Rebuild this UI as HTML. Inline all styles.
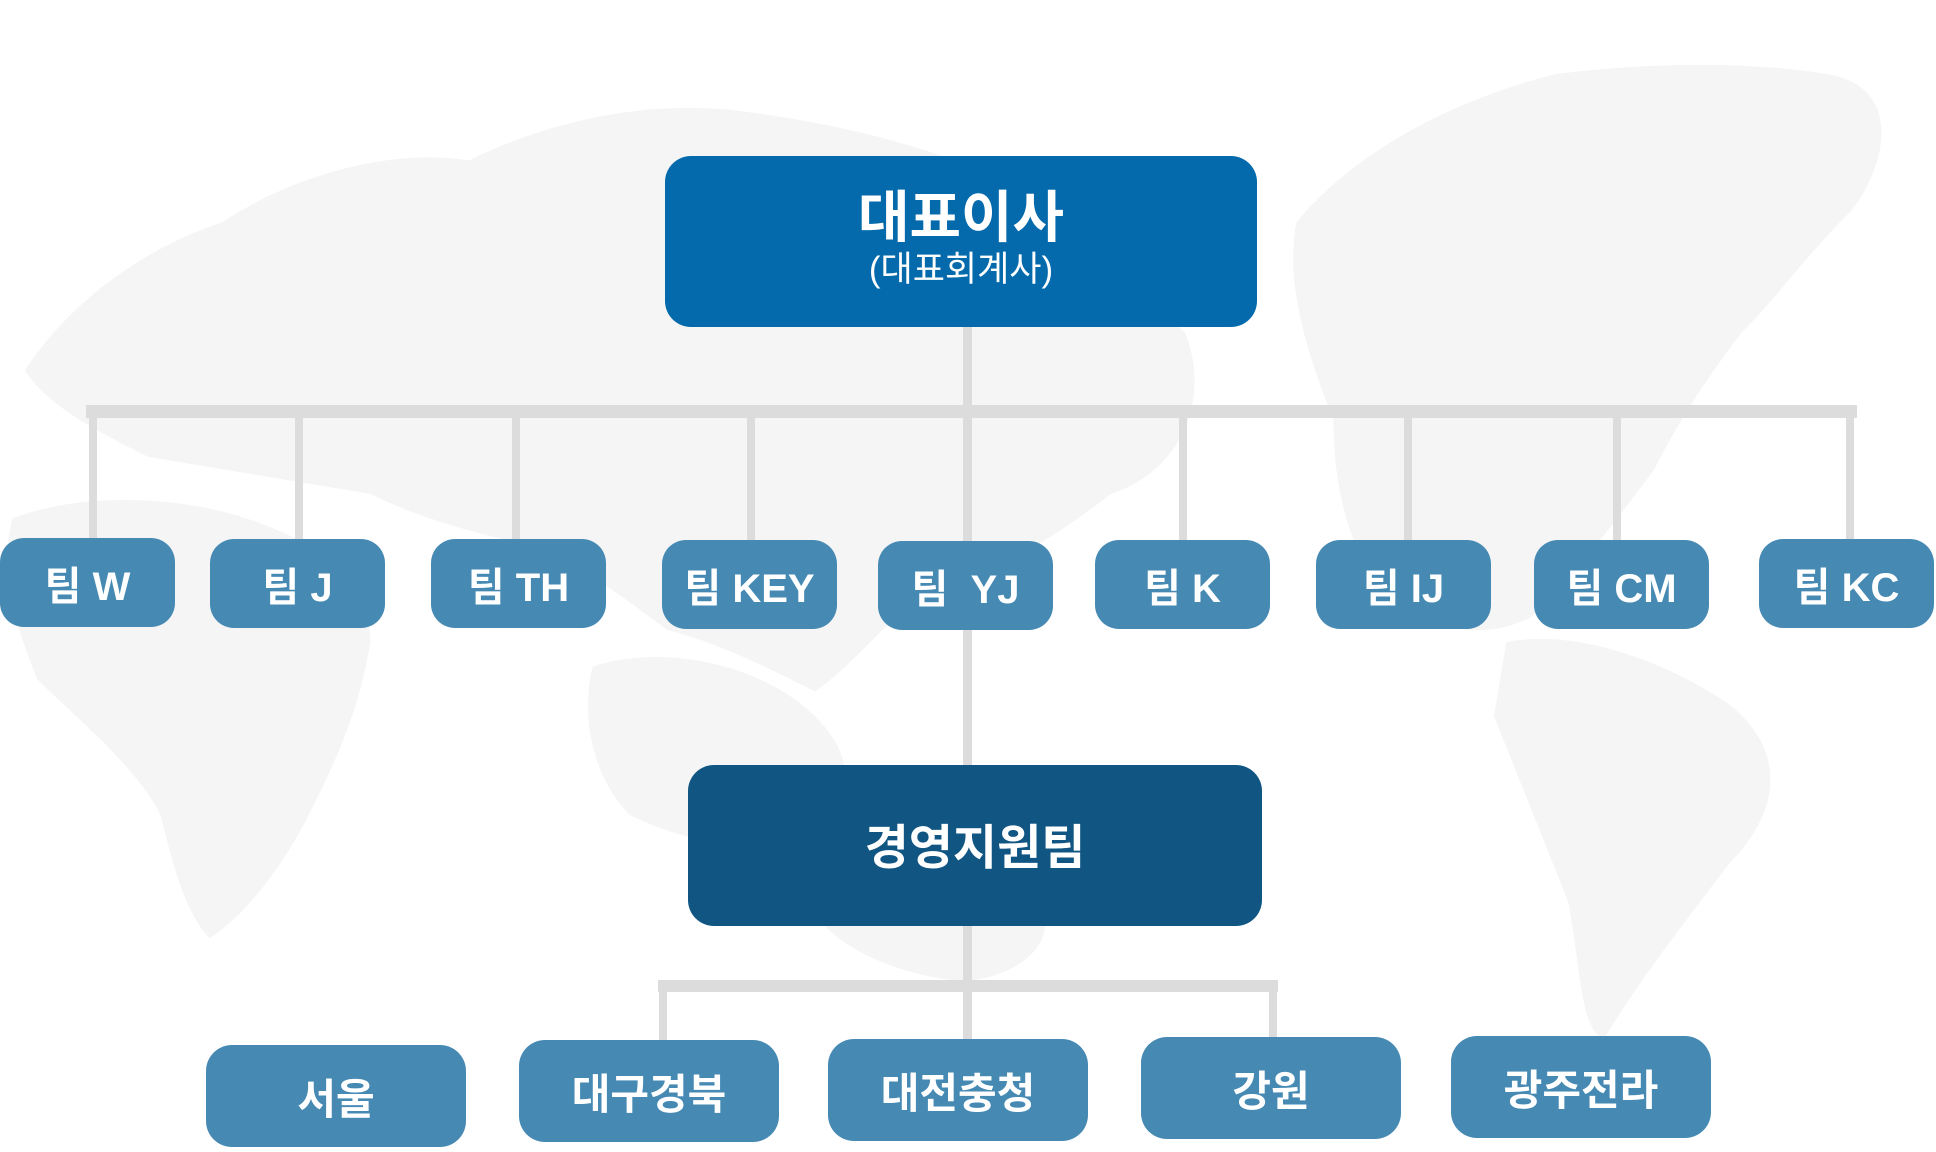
<!DOCTYPE html>
<html><head><meta charset="utf-8"><style>
html,body{margin:0;padding:0;background:#fff;}
body{width:1936px;height:1152px;position:relative;overflow:hidden;font-family:"Liberation Sans","Noto Sans CJK KR",sans-serif;}
svg{position:absolute;left:0;top:0;}
.b{position:absolute;box-sizing:border-box;color:#fff;font-weight:bold;display:flex;align-items:center;justify-content:center;flex-direction:column;}
.t{background:#468ab4;border-radius:24px;width:175px;height:89px;font-size:40px;}
.r{background:#468ab4;border-radius:26px;width:260px;height:102px;font-size:42px;}
</style></head><body>
<svg width="1936" height="1152">
<g transform="scale(1.2347)" fill="#f5f5f5">
<path d="M20,300 C60,240 120,200 180,180 C240,140 320,120 380,130 C440,100 520,80 600,90 C680,100 760,120 820,150 C880,180 920,230 960,270 C980,320 960,380 900,400 C860,430 820,460 760,470 C720,500 690,540 660,560 C620,540 580,520 540,510 C500,480 460,450 420,440 C380,430 340,420 300,400 C240,390 180,380 120,370 C80,350 40,330 20,300 Z"/>
<path d="M10,420 C60,400 140,400 200,420 C260,440 300,470 300,520 C290,580 270,620 250,660 C230,700 200,740 170,760 C150,740 140,700 130,660 C110,620 60,580 30,550 C10,500 0,460 10,420 Z"/>
<path d="M480,540 C540,520 620,540 660,580 C700,620 690,660 640,680 C600,690 550,680 510,660 C480,630 470,580 480,540 Z"/>
<path d="M660,700 C720,690 800,700 840,730 C860,760 830,790 780,795 C730,790 680,770 660,740 Z"/>
<path d="M1050,180 C1100,120 1180,80 1260,60 C1340,50 1420,50 1480,60 C1540,70 1530,130 1500,170 C1460,210 1440,240 1410,270 C1380,310 1360,340 1340,380 C1310,420 1280,460 1240,500 C1200,520 1160,510 1120,480 C1090,440 1080,390 1080,340 C1060,290 1040,230 1050,180 Z"/>
<path d="M1220,520 C1270,510 1340,530 1400,570 C1450,610 1440,660 1400,700 C1370,740 1330,790 1300,840 C1280,840 1280,780 1270,730 C1250,680 1230,630 1210,580 Z"/>
</g>
<g fill="#dcdcdc">
<rect x="963" y="327" width="9" height="440"/>
<rect x="86" y="405" width="1771" height="13"/>
<rect x="89" y="405" width="8" height="135"/>
<rect x="295" y="405" width="8" height="135"/>
<rect x="512" y="405" width="8" height="135"/>
<rect x="747" y="405" width="8" height="135"/>
<rect x="1179" y="405" width="8" height="135"/>
<rect x="1404" y="405" width="8" height="135"/>
<rect x="1613" y="405" width="8" height="135"/>
<rect x="1846" y="405" width="8" height="135"/>
<rect x="963" y="926" width="9" height="115"/>
<rect x="658" y="980" width="620" height="12"/>
<rect x="659" y="980" width="8" height="62"/>
<rect x="1269" y="980" width="8" height="62"/>
</g>
</svg>
<div class="b" style="left:665px;top:156px;width:592px;height:171px;background:#046aab;border-radius:26px;">
<div style="font-size:56px;line-height:62px;margin-top:-6px;">대표이사</div>
<div style="font-size:35px;font-weight:normal;line-height:42px;">(대표회계사)</div>
</div>
<div class="t b" style="left:0px;top:538px;">팀 W</div>
<div class="t b" style="left:210px;top:539px;">팀 J</div>
<div class="t b" style="left:431px;top:539px;">팀 TH</div>
<div class="t b" style="left:662px;top:540px;">팀 KEY</div>
<div class="t b" style="left:878px;top:541px;">팀 &nbsp;YJ</div>
<div class="t b" style="left:1095px;top:540px;">팀 K</div>
<div class="t b" style="left:1316px;top:540px;">팀 IJ</div>
<div class="t b" style="left:1534px;top:540px;">팀 CM</div>
<div class="t b" style="left:1759px;top:539px;">팀 KC</div>
<div class="b" style="left:688px;top:765px;width:574px;height:161px;background:#115683;border-radius:26px;font-size:48px;padding-bottom:6px;">경영지원팀</div>
<div class="r b" style="left:206px;top:1045px;">서울</div>
<div class="r b" style="left:519px;top:1040px;">대구경북</div>
<div class="r b" style="left:828px;top:1039px;">대전충청</div>
<div class="r b" style="left:1141px;top:1037px;">강원</div>
<div class="r b" style="left:1451px;top:1036px;">광주전라</div>
</body></html>
